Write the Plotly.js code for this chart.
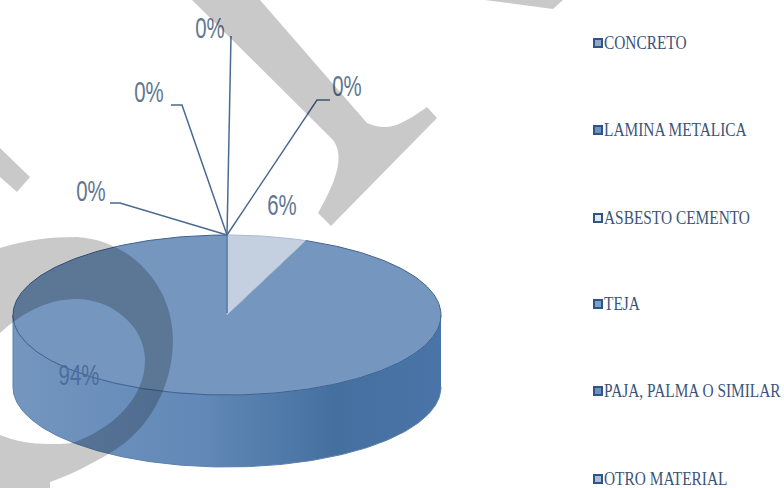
<!DOCTYPE html>
<html><head><meta charset="utf-8">
<script src="https://cdn.plot.ly/plotly-3.0.1.min.js"></script>
<style>html,body{margin:0;padding:0;background:#fff}#c{width:784px;height:488px}</style>
</head><body><div id="c"></div>
<script>
const categories = ["CONCRETO","LAMINA METALICA","ASBESTO CEMENTO","TEJA","PAJA, PALMA O SIMILAR","OTRO MATERIAL"];
const shares = [6, 94, 0, 0, 0, 0];
const labels = ["6%","94%","0%","0%","0%","0%"];
const legendFill = ["#8fa9c9","#6f93bd","#dfe7f1","#7fa0c6","#6f93bd","#a9bdd6"];

// pie geometry (axis units equal page pixels)
const cx=227, cy=315, rx=214, ry=80, depth=72;
const pt=(deg,r=1,dy=0)=>[cx+rx*r*Math.sin(deg*Math.PI/180), cy-ry*r*Math.cos(deg*Math.PI/180)+dy];
const arc=(a,b,dy=0)=>{const o=[];const n=Math.max(2,Math.ceil(Math.abs(b-a)));for(let i=0;i<=n;i++)o.push(pt(a+(b-a)*i/n,1,dy));return o;};
const xs=p=>p.map(q=>q[0]), ys=p=>p.map(q=>q[1]);
const total=shares.reduce((a,b)=>a+b,0);
const sliceEnd=shares[0]/total*360;

const sidePts=[...arc(90,270),...arc(270,90,depth)];
const side={x:xs(sidePts),y:ys(sidePts),mode:"lines",fill:"toself",line:{color:"#5c80ac",width:1},
  fillgradient:{type:"horizontal",colorscale:[[0,"#7496bf"],[0.45,"#6188b7"],[0.75,"#44709f"],[1,"#4a74a8"]]},hoverinfo:"skip",showlegend:false};
const mainPts=[[cx,cy],...arc(sliceEnd,360),[cx,cy]];
const main={x:xs(mainPts),y:ys(mainPts),mode:"lines",fill:"toself",fillcolor:"#7596bf",line:{color:"#3f6390",width:1},text:categories[1],hoverinfo:"text",showlegend:false};
const slicePts=[[cx,cy],...arc(0,sliceEnd),[cx,cy]];
const slice={x:xs(slicePts),y:ys(slicePts),mode:"lines",fill:"toself",fillcolor:"#c4d0e0",line:{color:"#a9bbd2",width:1},text:categories[0],hoverinfo:"text",showlegend:false};
const radial={x:[cx,cx],y:[235,313],mode:"lines",line:{color:"#4f79aa",width:1.5},hoverinfo:"skip",showlegend:false};

// leader lines for the empty slices
const leaders=[
 [[227,235],[120,203],[110,203]],
 [[227,235],[182,105],[171,105]],
 [[227,235],[231,36]],
 [[227,235],[317,100],[330,100]]
].map(p=>({x:xs(p),y:ys(p),mode:"lines",line:{color:"#4a6a92",width:1.5},hoverinfo:"skip",showlegend:false}));

const labelPos=[[282,206],[79,376],[91,192],[149,93],[210,29],[347,87]];
const labelTrace={x:labelPos.map(p=>p[0]),y:labelPos.map(p=>p[1]),text:labels,mode:"text",textposition:"middle center",
  textfont:{family:"'Liberation Sans',sans-serif",size:30,color:["#5f7791","#4d6d9c","#5f7791","#5f7791","#5f7791","#5f7791"]},hoverinfo:"skip",showlegend:false};

const legendY=[43,130,218,304,391,479];
const legend={x:categories.map(()=>598),y:legendY,text:categories,mode:"markers+text",textposition:"middle right",
  marker:{symbol:"square",size:8,color:legendFill,line:{color:"#2f5587",width:2}},
  textfont:{family:"'Liberation Serif',serif",size:18,color:"#3a5378"},hoverinfo:"skip",showlegend:false};

// gray watermark overlay
const wm={fillcolor:"rgba(0,0,0,0.21)",line:{width:0},type:"path",layer:"above",xref:"x",yref:"y"};
const shapes=[
 {...wm,path:"M192,0 L333,140 C342,152 342,172 318,213 L331,226 L437,118 L427,107 C395,130 385,130 367,123 L260,0 Z"},
 {...wm,path:"M0,148 L30,177 L17,192 L0,177 Z"},
 {...wm,path:"M485,0 L553,9 L563,0 Z"},
 {...wm,path:"M0,248 C25,240 50,237 77,237 C130,240 173,285 173,340 C173,385 150,430 110,453 C90,465 70,475 50,482 L50,488 L0,488 L0,435 C15,441 30,444 50,444 C65,444 72,444 80,440 C110,428 145,400 145,360 C145,325 110,299 77,299 C45,299 20,315 0,333 Z"}
];

const data=[side,main,slice,radial,...leaders,labelTrace,legend];
const axis={visible:false,fixedrange:true};
const layout={width:784,height:488,margin:{l:0,r:0,t:0,b:0},paper_bgcolor:"#fff",plot_bgcolor:"#fff",
  xaxis:{...axis,range:[0,784]},yaxis:{...axis,range:[488,0]},shapes,showlegend:false};

// The reference uses condensed lettering; squeeze the real text horizontally.
function condense(gd){
  gd.querySelectorAll(".scatterlayer .trace .textpoint text").forEach(t=>{
    const x=parseFloat(t.getAttribute("x"));
    const k=t.textContent.includes("%")?0.68:0.855;
    const prev=t.getAttribute("transform")||"";
    t.setAttribute("transform",`translate(${x},2) scale(${k},1) translate(${-x},0) ${prev}`);
  });
}
Plotly.newPlot("c",data,layout,{displayModeBar:false,staticPlot:true}).then(condense);
</script></body></html>
